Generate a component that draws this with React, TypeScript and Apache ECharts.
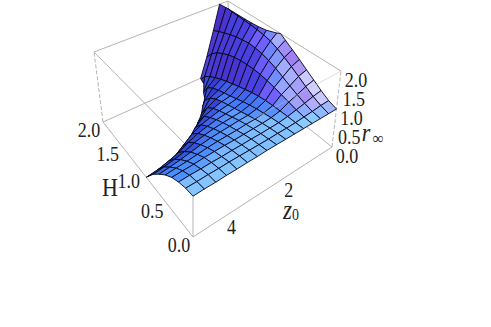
import React, { useEffect, useRef } from "react";
import * as echarts from "echarts";

// ---------- data ----------
const zValues = [0, 0.33, 0.67, 1, 1.33, 1.67, 2, 2.33, 2.67, 3, 3.33, 3.67, 4, 4.33, 4.67, 5];
const hValues = [0, 0.125, 0.25, 0.375, 0.5, 0.625, 0.75, 0.875, 1, 1.125, 1.25, 1.375, 1.5, 1.625, 1.75, 1.875, 2];
// r_inf: one row per z0, one column per H. Values outside 0..2 are cut away at the box.
const rValues = [
  [1, 1.07, 1.19, 1.33, 1.47, 1.62, 1.76, 1.9, 2.04, 2.19, 2.34, 2.5, 2.66, 2.82, 2.98, 3.14, 3.3],
  [1, 1.06, 1.15, 1.27, 1.4, 1.53, 1.65, 1.76, 1.85, 1.9, 1.93, 1.95, 1.96, 1.97, 1.98, 2.01, 2.08],
  [1, 1.03, 1.09, 1.17, 1.26, 1.36, 1.46, 1.54, 1.6, 1.63, 1.64, 1.61, 1.57, 1.51, 1.44, 1.36, 1.27],
  [1, 1.01, 1.04, 1.09, 1.14, 1.19, 1.23, 1.26, 1.27, 1.26, 1.24, 1.2, 1.14, 1.05, 0.94, 0.78, 0.55],
  [1, 0.99, 0.99, 0.98, 0.97, 0.95, 0.92, 0.87, 0.81, 0.75, 0.68, 0.61, 0.53, 0.44, 0.33, 0.2, -0.06],
  [1, 0.98, 0.96, 0.93, 0.89, 0.85, 0.8, 0.74, 0.67, 0.6, 0.54, 0.47, 0.39, 0.25, -0.08, -1, -1],
  [1, 0.98, 0.95, 0.91, 0.86, 0.8, 0.74, 0.68, 0.62, 0.56, 0.48, 0.36, 0.14, -0.44, -1, -1, -1],
  [1, 0.97, 0.94, 0.9, 0.85, 0.79, 0.72, 0.65, 0.58, 0.49, 0.36, 0.05, -0.37, -1, -1, -1, -1],
  [1, 0.97, 0.94, 0.89, 0.83, 0.77, 0.7, 0.62, 0.52, 0.4, 0.1, -0.32, -1, -1, -1, -1, -1],
  [0.99, 0.97, 0.93, 0.88, 0.82, 0.75, 0.67, 0.57, 0.45, 0.22, -0.28, -1, -1, -1, -1, -1, -1],
  [0.99, 0.97, 0.93, 0.88, 0.81, 0.73, 0.63, 0.51, 0.33, -0.08, -1, -1, -1, -1, -1, -1, -1],
  [0.98, 0.97, 0.92, 0.87, 0.79, 0.69, 0.57, 0.41, 0.14, -0.44, -1, -1, -1, -1, -1, -1, -1],
  [0.98, 0.96, 0.92, 0.86, 0.76, 0.64, 0.48, 0.28, -0.05, -1, -1, -1, -1, -1, -1, -1, -1],
  [0.97, 0.96, 0.91, 0.84, 0.73, 0.59, 0.42, 0.2, -0.13, -1, -1, -1, -1, -1, -1, -1, -1],
  [0.97, 0.95, 0.91, 0.83, 0.71, 0.55, 0.37, 0.13, -0.17, -1, -1, -1, -1, -1, -1, -1, -1],
  [0.96, 0.95, 0.9, 0.82, 0.69, 0.52, 0.33, 0.09, -0.16, -1, -1, -1, -1, -1, -1, -1, -1],
];
const hTicks = [0, 0.5, 1, 1.5, 2];
const zTicks = [2, 4];
const rTicks = [0, 0.5, 1, 1.5, 2];

// ---------- view: the screen positions of the box's corners ----------
const WIDTH = 491;
const HEIGHT = 327;
const H_MAX = 2;
const Z_MAX = 5;
const R_MAX = 2;
type P = [number, number];
const bottomQuad: P[] = [[193, 237], [103, 122], [230, 65], [332, 147]]; // (H0,z5) (H2,z5) (H2,z0) (H0,z0)
const topQuad: P[] = [[193, 152], [94, 52], [228, 1], [341, 71]];

function squareToQuad(q: P[]) {
  const [[x0, y0], [x1, y1], [x2, y2], [x3, y3]] = q;
  const dx1 = x1 - x2, dx2 = x3 - x2, sx = x0 - x1 + x2 - x3;
  const dy1 = y1 - y2, dy2 = y3 - y2, sy = y0 - y1 + y2 - y3;
  const det = dx1 * dy2 - dx2 * dy1;
  const g = (sx * dy2 - dx2 * sy) / det;
  const h = (dx1 * sy - sx * dy1) / det;
  const a = x1 - x0 + g * x1, b = x3 - x0 + h * x3, c = x0;
  const d = y1 - y0 + g * y1, e = y3 - y0 + h * y3, f = y0;
  return (u: number, v: number): P => {
    const w = g * u + h * v + 1;
    return [(a * u + b * v + c) / w, (d * u + e * v + f) / w];
  };
}
const bottomMap = squareToQuad(bottomQuad);
const topMap = squareToQuad(topQuad);

function project(H: number, z: number, r: number): P {
  const u = H / H_MAX, v = 1 - z / Z_MAX, t = r / R_MAX;
  const b = bottomMap(u, v), a = topMap(u, v);
  return [b[0] + (a[0] - b[0]) * t, b[1] + (a[1] - b[1]) * t];
}

// ---------- shading: surface normal -> colour ----------
const shadeAnchors: number[][] = [
  [0, 0, 1, 140, 205, 255],
  [0.2, 0.1, 0.97, 128, 192, 255],
  [0.25, 0.42, 0.83, 85, 144, 255],
  [0.36, 0.48, 0.8, 60, 112, 248],
  [0.67, 0, 0.74, 74, 144, 255],
  [0.85, 0.38, 0.38, 32, 64, 192],
  [0.7, 0.5, 0.4, 48, 80, 216],
  [0.58, 0.58, 0.58, 56, 56, 208],
  [0.04, 0.98, 0.18, 74, 48, 200],
  [0.02, 0.95, 0.28, 72, 64, 224],
  [-0.07, 0.87, 0.49, 112, 96, 255],
  [-0.25, 0.75, 0.62, 112, 144, 255],
  [-0.47, 0.62, 0.62, 168, 176, 255],
  [-0.65, 0.47, 0.59, 160, 128, 240],
  [-0.73, 0.24, 0.64, 208, 208, 255],
];
function shade(n: number[]) {
  let w = 0;
  const c = [0, 0, 0];
  for (const s of shadeAnchors) {
    const d = Math.hypot(n[0] - s[0], n[1] - s[1], n[2] - s[2]) + 0.02;
    const k = 1 / (d * d * d * d);
    w += k;
    c[0] += k * s[3]; c[1] += k * s[4]; c[2] += k * s[5];
  }
  return `rgb(${Math.round(c[0] / w)},${Math.round(c[1] / w)},${Math.round(c[2] / w)})`;
}
type V = [number, number, number];
function clipR(poly: V[], limit: number, keepAbove: boolean): V[] {
  const out: V[] = [];
  const inside = (p: V) => (keepAbove ? p[2] >= limit : p[2] <= limit);
  for (let i = 0; i < poly.length; i++) {
    const a = poly[i], b = poly[(i + 1) % poly.length];
    if (inside(a)) out.push(a);
    if (inside(a) !== inside(b)) {
      const t = (limit - a[2]) / (b[2] - a[2]);
      out.push([a[0] + (b[0] - a[0]) * t, a[1] + (b[1] - a[1]) * t, limit]);
    }
  }
  return out;
}

// cells, farthest first
const cellData: number[][] = [];
for (let j = hValues.length - 2; j >= 0; j--) {
  for (let i = 0; i < zValues.length - 1; i++) cellData.push([i, j]);
}
const boxEdges: [P, P, boolean][] = [
  [topQuad[1], topQuad[2], false],
  [topQuad[2], topQuad[3], false],
  [topQuad[0], topQuad[1], false],
  [bottomQuad[1], bottomQuad[2], false],
  [bottomQuad[2], bottomQuad[3], false],
  [bottomQuad[0], bottomQuad[1], false],
  [bottomQuad[0], bottomQuad[3], false],
  [bottomQuad[0], topQuad[0], false],
  [bottomQuad[1], topQuad[1], true],
  [bottomQuad[3], topQuad[3], true],
  [bottomQuad[2], topQuad[2], false],
];

type Lab = { text: string; x: number; y: number; size: number; italic?: boolean };
const labels: Lab[] = [
  ...hTicks.map((t) => { const p = project(t, Z_MAX, 0); return { text: t.toFixed(1), x: p[0] - 14, y: p[1] + 8, size: 18 }; }),
  ...zTicks.map((t) => { const p = project(0, t, 0); return { text: String(t), x: p[0] + 6, y: p[1] + 11, size: 18 }; }),
  ...rTicks.map((t) => { const p = project(0, 0, t); return { text: t.toFixed(1), x: p[0] + 15, y: p[1] + 9, size: 18 }; }),
  { text: "H", x: 110, y: 187, size: 22 },
  { text: "z", x: 287.5, y: 210, size: 23, italic: true },
  { text: "0", x: 295.5, y: 215, size: 14 },
  { text: "r", x: 366, y: 132, size: 22, italic: true },
  { text: "∞", x: 378, y: 138, size: 15 },
];

export default function App() {
  const ref = useRef<HTMLDivElement>(null);
  useEffect(() => {
    document.body.style.margin = "0";
    const chart = echarts.init(ref.current!, undefined, { renderer: "svg" });
    const gridAxis = (max: number, inverse: boolean) => ({
      type: "value" as const, min: 0, max, inverse, show: false,
    });
    chart.setOption({
      animation: false,
      grid: { left: 0, right: 0, top: 0, bottom: 0 },
      xAxis: gridAxis(WIDTH, false),
      yAxis: gridAxis(HEIGHT, true),
      series: [
        {
          type: "custom", silent: true, clip: false, coordinateSystem: "cartesian2d",
          data: boxEdges.map((_, i) => [i]),
          renderItem: (params: any, api: any) => {
            const [a, b, dashed] = boxEdges[params.dataIndex];
            const p = api.coord(a), q = api.coord(b);
            return {
              type: "line",
              shape: { x1: p[0], y1: p[1], x2: q[0], y2: q[1] },
              style: { stroke: "#b4b4b4", lineWidth: 1, lineDash: dashed ? [4, 2] : undefined },
            };
          },
        },
        {
          type: "custom", silent: true, clip: false, coordinateSystem: "cartesian2d",
          data: cellData,
          renderItem: (params: any, api: any) => {
            const [i, j] = cellData[params.dataIndex];
            const H0 = hValues[j], H1 = hValues[j + 1], z0 = zValues[i], z1 = zValues[i + 1];
            const r00 = rValues[i][j], r01 = rValues[i][j + 1], r10 = rValues[i + 1][j], r11 = rValues[i + 1][j + 1];
            let poly: V[] = [[H0, z0, r00], [H1, z0, r01], [H1, z1, r11], [H0, z1, r10]];
            poly = clipR(clipR(poly, 0, true), R_MAX, false);
            if (poly.length < 3) return null;
            const sH = ((r01 + r11 - r00 - r10) / 2) / R_MAX / ((H1 - H0) / H_MAX);
            const sZ = ((r10 + r11 - r00 - r01) / 2) / R_MAX / ((z1 - z0) / Z_MAX);
            const len = Math.hypot(sH, sZ, 1);
            const fill = shade([-sH / len, -sZ / len, 1 / len]);
            return {
              type: "polygon",
              shape: { points: poly.map((v) => api.coord(project(v[0], v[1], v[2]))) },
              style: { fill, stroke: "rgba(5,5,30,0.9)", lineWidth: 1 },
            };
          },
        },
        {
          type: "custom", silent: true, clip: false, coordinateSystem: "cartesian2d",
          data: [[0]],
          renderItem: (_: any, api: any) => {
            const p = api.coord(topQuad[3]), q = api.coord(topQuad[0]);
            return {
              type: "line",
              shape: { x1: p[0], y1: p[1], x2: p[0] + (q[0] - p[0]) * 0.62, y2: p[1] + (q[1] - p[1]) * 0.62 },
              style: { stroke: "rgba(190,190,190,0.5)", lineWidth: 1 },
            };
          },
        },
        {
          type: "custom", silent: true, clip: false, coordinateSystem: "cartesian2d",
          data: labels.map((_, i) => [i]),
          renderItem: (params: any, api: any) => {
            const l = labels[params.dataIndex];
            const p = api.coord([l.x, l.y]);
            return {
              type: "text",
              x: p[0], y: p[1], scaleY: 1.15,
              style: {
                text: l.text, x: 0, y: 0, fill: "#222",
                font: `${l.italic ? "italic " : ""}${l.size}px "Liberation Serif"`,
                align: "center", verticalAlign: "middle",
              },
            };
          },
        },
      ],
    });
    return () => chart.dispose();
  }, []);
  return <div ref={ref} style={{ width: WIDTH, height: HEIGHT, background: "#fff" }} />;
}
